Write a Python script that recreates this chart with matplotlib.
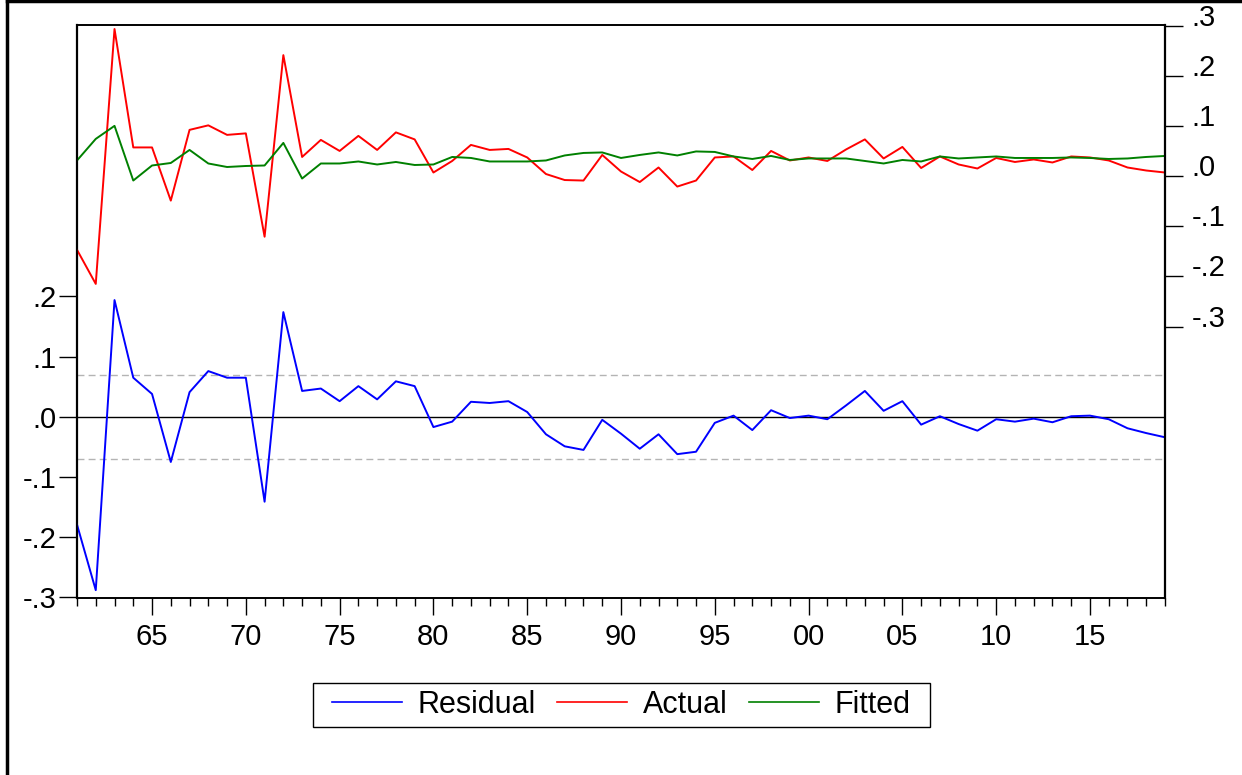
import numpy as np
import matplotlib.pyplot as plt
from matplotlib.lines import Line2D
from matplotlib.patches import Rectangle
from matplotlib.ticker import FixedLocator, FuncFormatter

plt.rcParams['font.family'] = ['Liberation Sans', 'DejaVu Sans']

years = list(range(1961, 2020))

# actual / fitted (right axis)
actual = [-0.147, -0.215, 0.293, 0.057, 0.057, -0.049, 0.092, 0.101, 0.082, 0.085,
          -0.121, 0.241, 0.038, 0.072, 0.050, 0.080, 0.052, 0.087, 0.073, 0.007,
          0.030, 0.062, 0.052, 0.054, 0.037, 0.004, -0.008, -0.009, 0.042, 0.009,
          -0.012, 0.017, -0.021, -0.009, 0.037, 0.039, 0.012, 0.050, 0.031, 0.037,
          0.030, 0.053, 0.073, 0.035, 0.058, 0.016, 0.039, 0.023, 0.015, 0.036,
          0.028, 0.033, 0.027, 0.039, 0.037, 0.031, 0.017, 0.011, 0.007]
fitted = [0.031, 0.074, 0.100, -0.009, 0.021, 0.026, 0.052, 0.025, 0.018, 0.020,
          0.021, 0.066, -0.005, 0.025, 0.025, 0.029, 0.023, 0.028, 0.022, 0.023,
          0.038, 0.036, 0.029, 0.029, 0.029, 0.031, 0.041, 0.046, 0.047, 0.036,
          0.042, 0.047, 0.041, 0.049, 0.048, 0.039, 0.034, 0.040, 0.032, 0.035,
          0.035, 0.035, 0.030, 0.025, 0.032, 0.029, 0.039, 0.035, 0.037, 0.039,
          0.036, 0.036, 0.036, 0.037, 0.036, 0.034, 0.035, 0.038, 0.040]
# residual (left axis)
residual = [-0.179, -0.288, 0.194, 0.065, 0.038, -0.075, 0.041, 0.076, 0.065, 0.065,
            -0.141, 0.174, 0.043, 0.047, 0.026, 0.051, 0.029, 0.059, 0.051, -0.017,
            -0.008, 0.025, 0.023, 0.026, 0.008, -0.029, -0.049, -0.055, -0.005, -0.028,
            -0.053, -0.029, -0.062, -0.058, -0.010, 0.002, -0.022, 0.011, -0.002, 0.002,
            -0.004, 0.019, 0.043, 0.010, 0.026, -0.013, 0.001, -0.012, -0.023, -0.004,
            -0.008, -0.003, -0.009, 0.001, 0.002, -0.004, -0.019, -0.027, -0.034]
se_band = 0.0695


def ev_fmt(v, pos=None):
    s = f"{v:.1f}"
    if s == "-0.0":
        s = "0.0"
    return s.replace("0.", ".")


fig = plt.figure(figsize=(12.42, 7.75), dpi=100)
ax = fig.add_axes([77 / 1242, 1 - 598 / 775, (1165 - 77) / 1242, (598 - 25) / 775])
ax2 = ax.twinx()

# residual part
ax.axhline(0, color='black', lw=1.0, zorder=1)
ax.axhline(se_band, color='#b4b4b4', lw=1.0, ls=(0, (5, 3)), zorder=1)
ax.axhline(-se_band, color='#b4b4b4', lw=1.0, ls=(0, (5, 3)), zorder=1)
l_res, = ax.plot(years, residual, color='#0000ff', lw=1.4, zorder=3)

# actual / fitted
l_act, = ax2.plot(years, actual, color='#ff0000', lw=1.4)
l_fit, = ax2.plot(years, fitted, color='#008000', lw=1.4)

ax.set_xlim(1961, 2019)
ax.set_ylim(-0.301, 0.651)
ax2.set_ylim(-0.841, 0.301)

ax.yaxis.set_major_locator(FixedLocator([-0.3, -0.2, -0.1, 0.0, 0.1, 0.2]))
ax.yaxis.set_major_formatter(FuncFormatter(ev_fmt))
ax2.yaxis.set_major_locator(FixedLocator([-0.3, -0.2, -0.1, 0.0, 0.1, 0.2, 0.3]))
ax2.yaxis.set_major_formatter(FuncFormatter(ev_fmt))

ax.xaxis.set_major_locator(FixedLocator(list(range(1965, 2020, 5))))
ax.xaxis.set_major_formatter(FuncFormatter(lambda v, p: f"{int(round(v)) % 100:02d}"))
ax.xaxis.set_minor_locator(FixedLocator(years))

ax.tick_params(axis='y', direction='out', length=13, width=1, pad=2, labelsize=21)
ax2.tick_params(axis='y', direction='out', length=13, width=1, pad=6, labelsize=21)
ax.tick_params(axis='x', which='major', direction='out', length=12, width=1, pad=6, labelsize=21)
ax.tick_params(axis='x', which='minor', direction='out', length=6, width=1)
for lab in ax2.get_yticklabels():
    lab.set_verticalalignment('baseline')

for a in (ax, ax2):
    for sp in a.spines.values():
        sp.set_linewidth(1.2)
ax.spines['left'].set_linewidth(1.6)
ax2.spines['right'].set_linewidth(1.6)

# legend (EViews style box drawn separately for wider side padding)
fig.legend([l_res, l_act, l_fit], ['Residual', 'Actual', 'Fitted'],
           loc='center', bbox_to_anchor=(621 / 1242, 1 - 705 / 775), ncol=3,
           fontsize=22, frameon=False,
           handlelength=2.3, columnspacing=0.7, handletextpad=0.5,
           borderpad=0.2, borderaxespad=0)
leg = fig.legends[0]
for h in leg.legend_handles:
    h.set_linewidth(1.2)
fig.add_artist(Rectangle((313 / 1242, 1 - 727 / 775), (930 - 313) / 1242, 44 / 775,
                         transform=fig.transFigure, fill=False, edgecolor='black', lw=1.0))

# outer frame around the graph
fig.add_artist(Line2D([7 / 1242, 7 / 1242], [0, 1 - 1 / 775], color='black', lw=2.5))
fig.add_artist(Line2D([7 / 1242, 1], [1 - 1 / 775, 1 - 1 / 775], color='black', lw=2.5))

fig.savefig('out.png', dpi=100)
